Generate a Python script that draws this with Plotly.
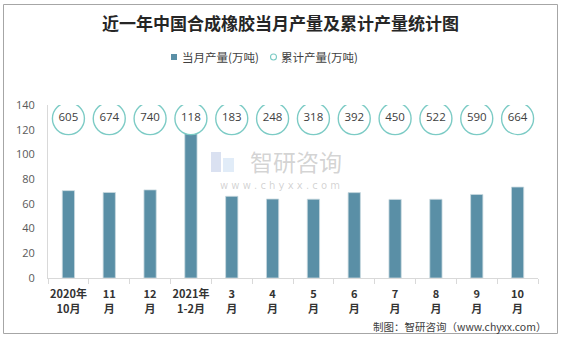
import plotly.graph_objects as go

# Monthly synthetic rubber output (10k tonnes) and year-to-date cumulative output
months = ["2020年10月", "11月", "12月", "2021年1-2月", "3月", "4月",
          "5月", "6月", "7月", "8月", "9月", "10月"]
month_top = ["2020年", "11", "12", "2021年", "3", "4", "5", "6", "7", "8", "9", "10"]
month_bottom = ["10月", "月", "月", "1-2月", "月", "月", "月", "月", "月", "月", "月", "月"]
monthly = [70.7, 69.2, 71.3, 118, 66.1, 63.9, 63.8, 69.1, 63.6, 63.7, 67.6, 73.6]
cumulative = [605, 674, 740, 118, 183, 248, 318, 392, 450, 522, 590, 664]
y_ticks = [0, 20, 40, 60, 80, 100, 120, 140]

W, H = 561, 338
ML, MR, MT, MB = 48, 23, 105, 60
BAR = "#5a8fa6"
TEAL = "#7ccbc5"
TXT = "#404040"
CJK = "Noto Sans CJK SC"

circle_level = 129  # row of cumulative badges across the top of the plot

fig = go.Figure()
fig.add_bar(x=months, y=monthly, width=0.3, marker=dict(color=BAR, line=dict(color="#c9d9e0", width=0.8)),
            showlegend=False, hoverinfo="y")
fig.add_scatter(x=months, y=[circle_level] * len(months), yaxis="y2", mode="markers+text",
                text=[str(v) for v in cumulative], textposition="middle center",
                textfont=dict(family="Open Sans", size=11.5, color=TXT),
                marker=dict(symbol="circle", size=32, color="white", line=dict(color=TEAL, width=1.4)),
                showlegend=False, hoverinfo="text")
# carrier trace for the second row of category labels
fig.add_scatter(x=months, y=[None] * len(months), xaxis="x2", mode="markers",
                showlegend=False, hoverinfo="skip")

pw = W - ML - MR
ph = H - MT - MB
def px_x(p):
    return (p - ML) / pw
def px_y(p):
    return (H - MB - p) / ph

shapes = []
# outer frame
shapes.append(dict(type="rect", xref="paper", yref="paper",
                   x0=px_x(3.5), x1=px_x(557.5), y0=px_y(333.5), y1=px_y(4.5),
                   line=dict(color="#a6a6a6", width=1), fillcolor="rgba(0,0,0,0)", layer="below"))

# legend keys
shapes.append(dict(type="rect", xref="paper", yref="paper",
                   x0=px_x(171), x1=px_x(177), y0=px_y(60), y1=px_y(54),
                   line=dict(width=0), fillcolor=BAR))
shapes.append(dict(type="circle", xref="paper", yref="paper",
                   x0=px_x(270.5), x1=px_x(276.5), y0=px_y(60), y1=px_y(54),
                   line=dict(width=1.1, color=TEAL), fillcolor="white"))

# watermark logo blocks
shapes.append(dict(type="rect", xref="paper", yref="paper", x0=px_x(211), x1=px_x(221),
                   y0=px_y(172), y1=px_y(152), line=dict(width=0), fillcolor="rgba(150,170,215,0.35)"))
shapes.append(dict(type="rect", xref="paper", yref="paper", x0=px_x(223), x1=px_x(234),
                   y0=px_y(172), y1=px_y(158), line=dict(width=0), fillcolor="rgba(170,200,235,0.35)"))

annotations = [
    dict(xref="paper", yref="paper", x=px_x(180), y=px_y(57), xanchor="left", yanchor="middle",
         text="当月产量(万吨)", showarrow=False, font=dict(family=CJK, size=11.5, color=TXT)),
    dict(xref="paper", yref="paper", x=px_x(279), y=px_y(57), xanchor="left", yanchor="middle",
         text="累计产量(万吨)", showarrow=False, font=dict(family=CJK, size=11.5, color=TXT)),
    dict(xref="paper", yref="paper", x=px_x(296), y=px_y(161), yanchor="middle",
         text="智研咨询", showarrow=False, font=dict(family=CJK, size=23, color="rgba(150,150,150,0.42)")),
    dict(xref="paper", yref="paper", x=px_x(280), y=px_y(185), yanchor="middle",
         text="w w w . c h y x x . c o m", showarrow=False,
         font=dict(family="DejaVu Sans", size=10, color="rgba(150,150,150,0.42)")),
    dict(xref="paper", yref="paper", x=px_x(548), y=px_y(326), xanchor="right", yanchor="middle",
         text="制图：智研咨询（www.chyxx.com）", showarrow=False,
         font=dict(family=CJK, size=10.5, color=TXT)),
]

tick_font = dict(family=CJK, size=11, color="#333333")
fig.update_layout(
    width=W, height=H, margin=dict(l=ML, r=MR, t=MT, b=MB, autoexpand=False),
    paper_bgcolor="white", plot_bgcolor="white", showlegend=False,
    title=dict(text="<b>近一年中国合成橡胶当月产量及累计产量统计图</b>", x=0.5, xref="container",
               xanchor="center", y=1 - 24 / H, yanchor="middle",
               font=dict(family=CJK, size=17, color="#262626")),
    shapes=shapes, annotations=annotations,
    xaxis=dict(type="category", range=[-0.5, len(months) - 0.5], showline=True, linecolor="#d9d9d9",
               linewidth=1, automargin=False, ticklabelstandoff=6,
               ticks="outside", tickson="boundaries", ticklen=5, tickcolor="#d9d9d9", tickangle=0,
               tickfont=tick_font, tickvals=months,
               ticktext=[f"<b>{t}</b>" for t in month_top], showgrid=False),
    xaxis2=dict(type="category", matches="x", overlaying="x", anchor="y", side="bottom",
                range=[-0.5, len(months) - 0.5], showline=False, showgrid=False, ticks="",
                automargin=False, ticklabelstandoff=23, tickangle=0, tickfont=tick_font,
                tickvals=months, ticktext=[f"<b>{t}</b>" for t in month_bottom]),
    yaxis=dict(range=[0, 140], tickvals=y_ticks, showline=True, linecolor="#d9d9d9", linewidth=1,
               showgrid=False, zeroline=False, ticks="", automargin=False, ticklabelstandoff=10,
               tickfont=dict(family="Open Sans", size=11, color="#595959")),
    yaxis2=dict(range=[0, 140], overlaying="y", visible=False),
    bargap=0.7,
)

fig.write_html("out.html")
